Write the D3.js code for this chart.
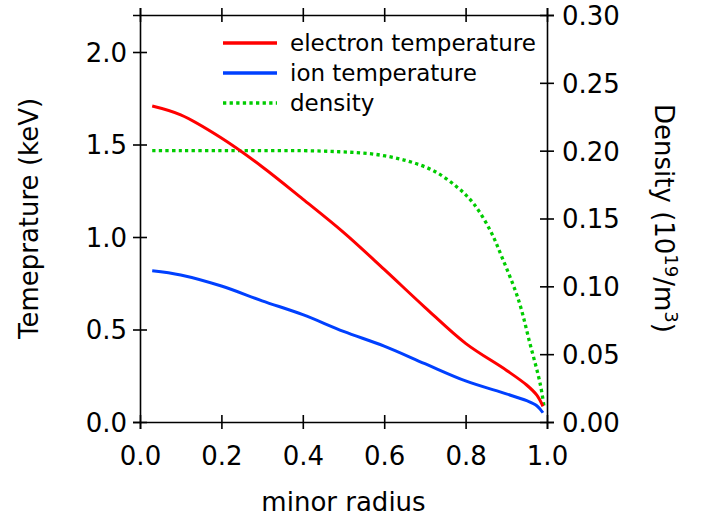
<!DOCTYPE html>
<html>
<head>
<meta charset="utf-8">
<script src="https://cdn.jsdelivr.net/npm/d3@7"></script>
<style>
  html, body { margin: 0; padding: 0; background: #fff; }
  svg { display: block; }
  text { font-family: "DejaVu Sans", sans-serif; fill: #000; }
</style>
</head>
<body>
<svg id="chart" width="719" height="522"></svg>
<script>
// ---- data ----
const electronR = [0.03, 0.1, 0.2, 0.3, 0.4, 0.5, 0.6, 0.7, 0.8, 0.9, 0.95, 0.975, 0.99];
const electronT = [1.708, 1.66, 1.535, 1.38, 1.205, 1.025, 0.825, 0.62, 0.425, 0.28, 0.2, 0.145, 0.085];

const ionR = [0.03, 0.1, 0.2, 0.3, 0.4, 0.5, 0.6, 0.7, 0.8, 0.9, 0.95, 0.975, 0.99];
const ionT = [0.818, 0.795, 0.735, 0.655, 0.58, 0.49, 0.41, 0.315, 0.222, 0.152, 0.115, 0.088, 0.05];

const densityR = [0.03, 0.1, 0.2, 0.3, 0.4, 0.49, 0.573, 0.655, 0.721, 0.778, 0.819, 0.86, 0.89, 0.93, 0.958, 0.983, 0.993];
const densityV = [0.2, 0.2, 0.2, 0.2, 0.2, 0.1992, 0.1975, 0.1926, 0.1852, 0.1734, 0.1612, 0.1415, 0.121, 0.09, 0.058, 0.0285, 0.011];

const xTicks = [0.0, 0.2, 0.4, 0.6, 0.8, 1.0];
const leftTicks = [0.0, 0.5, 1.0, 1.5, 2.0];
const rightTicks = [0.00, 0.05, 0.10, 0.15, 0.20, 0.25, 0.30];

const legendLabels = ["electron temperature", "ion temperature", "density"];
const seriesColors = ["#ff0000", "#0040ff", "#00cc00"];

// ---- layout ----
const svg = d3.select("#chart");
const L = 140, R = 547, T = 15, B = 422;

const x = d3.scaleLinear().domain([0, 1]).range([L, R]);
const yL = d3.scaleLinear().domain([0, 2.2]).range([B, T]);
const yR = d3.scaleLinear().domain([0, 0.30]).range([B, T]);

const tickFont = "26px";

function styleAxis(g, orient) {
  g.select(".domain").attr("stroke", "#000").attr("stroke-width", 1.6);
  g.selectAll(".tick line").attr("stroke", "#000").attr("stroke-width", 1.6);
  g.selectAll(".tick text").style("font-size", tickFont).style("font-family", '"DejaVu Sans", sans-serif');
  if (orient === "left" || orient === "right") {
    g.selectAll(".tick line").attr("x1", -7).attr("x2", 7);
  } else {
    g.selectAll(".tick line").attr("y1", -7).attr("y2", 7);
  }
}

// bottom axis
const gB = svg.append("g").attr("transform", `translate(0,${B})`)
  .call(d3.axisBottom(x).tickValues(xTicks).tickFormat(d3.format(".1f")).tickSizeOuter(0).tickSize(7));
styleAxis(gB, "bottom");
gB.selectAll(".tick text").attr("dy", null).attr("y", 43);

// top axis (no labels)
const gT = svg.append("g").attr("transform", `translate(0,${T})`)
  .call(d3.axisTop(x).tickValues(xTicks).tickFormat("").tickSizeOuter(0).tickSize(7));
styleAxis(gT, "top");

// left axis
const gL = svg.append("g").attr("transform", `translate(${L},0)`)
  .call(d3.axisLeft(yL).tickValues(leftTicks).tickFormat(d3.format(".1f")).tickSizeOuter(0).tickSize(7));
styleAxis(gL, "left");
gL.selectAll(".tick text").attr("x", -13).attr("dy", "0.36em");

// right axis
const gR = svg.append("g").attr("transform", `translate(${R},0)`)
  .call(d3.axisRight(yR).tickValues(rightTicks).tickFormat(d3.format(".2f")).tickSizeOuter(0).tickSize(7));
styleAxis(gR, "right");
gR.selectAll(".tick text").attr("x", 15).attr("dy", "0.36em");

// ---- lines ----
const curve = d3.curveCatmullRom.alpha(0.5);
const lineL = d3.line().x(d => x(d[0])).y(d => yL(d[1])).curve(curve);
const lineR = d3.line().x(d => x(d[0])).y(d => yR(d[1])).curve(curve);

svg.append("path").datum(densityR.map((r, i) => [r, densityV[i]]))
  .attr("d", lineR).attr("fill", "none").attr("stroke", seriesColors[2])
  .attr("stroke-width", 3.3).attr("stroke-dasharray", "3.3,3.3");

svg.append("path").datum(ionR.map((r, i) => [r, ionT[i]]))
  .attr("d", lineL).attr("fill", "none").attr("stroke", seriesColors[1]).attr("stroke-width", 3);

svg.append("path").datum(electronR.map((r, i) => [r, electronT[i]]))
  .attr("d", lineL).attr("fill", "none").attr("stroke", seriesColors[0]).attr("stroke-width", 3);

// ---- legend ----
const leg = svg.append("g");
legendLabels.forEach((lab, i) => {
  const cy = 43 + i * 30;
  leg.append("line").attr("x1", 223).attr("x2", 277).attr("y1", cy).attr("y2", cy)
    .attr("stroke", seriesColors[i]).attr("stroke-width", 3.3)
    .attr("stroke-dasharray", i === 2 ? "3.3,3.3" : null);
  leg.append("text").attr("x", 290).attr("y", cy + 8).style("font-size", "23px").text(lab);
});

// ---- axis titles ----
svg.append("text").attr("x", (L + R) / 2).attr("y", 511).attr("text-anchor", "middle")
  .style("font-size", "26px").text("minor radius");

svg.append("text").attr("transform", `translate(38,${(T + B) / 2}) rotate(-90)`)
  .attr("text-anchor", "middle").style("font-size", "26px").text("Temeprature (keV)");

const rt = svg.append("text").attr("transform", `translate(655,${(T + B) / 2}) rotate(90)`)
  .attr("text-anchor", "middle").style("font-size", "26px");
rt.append("tspan").text("Density (10");
rt.append("tspan").attr("dy", -10).style("font-size", "18px").text("19");
rt.append("tspan").attr("dy", 10).text("/m");
rt.append("tspan").attr("dy", -10).style("font-size", "18px").text("3");
rt.append("tspan").attr("dy", 10).text(")");
</script>
</body>
</html>
